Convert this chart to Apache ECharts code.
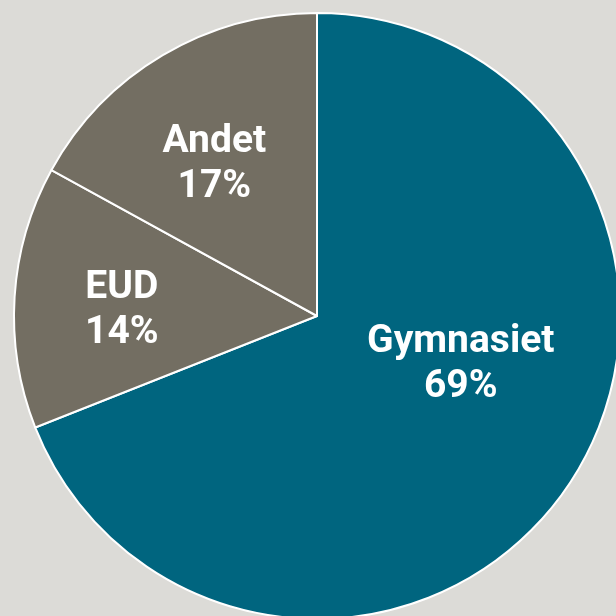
<!DOCTYPE html>
<html>
<head>
<meta charset="utf-8">
<script src="https://cdn.jsdelivr.net/npm/echarts@6/dist/echarts.min.js"></script>
<style>
html,body{margin:0;padding:0;background:#dcdbd7;}
#chart{width:616px;height:616px;}
</style>
</head>
<body>
<div id="chart"></div>
<script>
// data
var categories = ['Gymnasiet', 'EUD', 'Andet'];
var shares = [69, 14, 17];
var colors = ['#00657f', '#736e62', '#736e62'];
// label nudges so the text sits like the original
var labelOffsets = [[16, -38], [-41, 4], [-24, -18]];

var chart = echarts.init(document.getElementById('chart'));
var pieData = categories.map(function (name, i) {
    return {
        name: name,
        value: shares[i],
        itemStyle: {color: colors[i]},
        label: {offset: labelOffsets[i]}
    };
});

chart.setOption({
    backgroundColor: '#dcdbd7',
    animation: false,
    series: [{
        type: 'pie',
        center: [317, 316],
        radius: [0, 303],
        startAngle: 90,
        clockwise: true,
        itemStyle: {
            borderColor: '#ffffff',
            borderWidth: 2
        },
        label: {
            show: true,
            position: 'inside',
            formatter: '{b}\n{d}%',
            color: '#ffffff',
            fontFamily: 'Roboto',
            fontWeight: 'bold',
            fontSize: 39,
            lineHeight: 45,
            align: 'center'
        },
        labelLine: {show: false},
        data: pieData
    }]
});
</script>
</body>
</html>
